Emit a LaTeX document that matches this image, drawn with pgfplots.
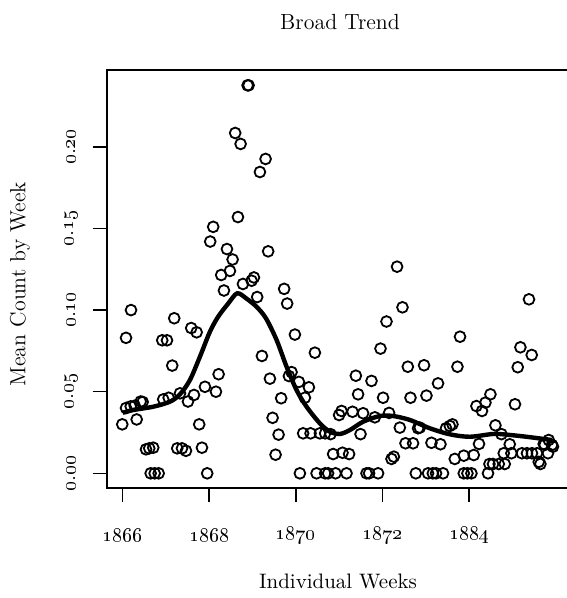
\documentclass[border=0pt]{standalone}
\usepackage{pgfplots}
\usepackage{pgfplotstable}
\pgfplotsset{compat=1.18}

\pgfplotstableread{
w v
-0.5 0.030
4 0.083
4 0.040
9.6 0.041
10 0.100
14.4 0.0414
16.8 0.033
21.6 0.044
24 0.0437
28 0.0147
31.9 0.0153
36.7 0.0157
33.6 0
38.4 0
43.2 0
47.5 0.0815
53.2 0.0815
48.7 0.0453
55.2 0.0463
59.5 0.066
61.9 0.095
65.5 0.0153
68.8 0.049
71.2 0.0153
76 0.0138
78.4 0.044
85.6 0.048
82.3 0.089
88.8 0.0864
91.9 0.030
95.2 0.0157
98.8 0.053
101.5 0
105.1 0.142
108.7 0.151
112 0.050
115.2 0.0607
118.3 0.1215
121.6 0.112
125.2 0.1374
128.8 0.124
132 0.131
135.1 0.2085
141.6 0.2018
138.4 0.157
144.4 0.116
150 0.2377
151.2 0.2377
154.8 0.118
157.6 0.120
161.5 0.108
164.8 0.1846
171.6 0.1926
174.7 0.136
167.2 0.0719
176.8 0.058
180 0.034
187.2 0.0237
183.6 0.0114
190.3 0.046
193.9 0.113
197.5 0.104
199.6 0.0596
202.8 0.062
206.8 0.085
211.6 0.056
212.8 0
216.7 0.0245
218.8 0.0463
223.6 0.0527
225.6 0.0245
230.8 0.0739
232.8 0
236.8 0.0245
243.1 0.0245
243.1 0
246.7 0
249.6 0.024
252.7 0.0118
255.6 0
259.9 0.0357
262.8 0.0382
264 0.0126
268.8 0
271.9 0.0118
276 0.0377
280 0.0598
282.7 0.0484
285.6 0.024
288.7 0.0368
292.8 0
295.9 0
298.8 0.0566
302.8 0.0343
306.7 0
309.6 0.0764
312.7 0.0463
316.8 0.093
319.9 0.037
322.8 0.0088
325.6 0.0102
329.5 0.1266
332.8 0.028
336 0.1017
339.6 0.0184
342.4 0.0653
345.6 0.0463
348.7 0.0184
352 0
354.7 0.0276
356.8 0.028
361.9 0.0662
364.8 0.0476
366.7 0
370.8 0.0187
372.4 0
376.3 0
378.7 0.0551
381.6 0.0178
384.7 0
388.3 0.0276
392.8 0.029
396 0.030
398.8 0.0088
402 0.0653
405.1 0.0837
409.6 0.0108
409.6 0
414 0
418.8 0
421.6 0.0112
424.8 0.0412
427.9 0.018
431.5 0.0382
435.6 0.0433
438.7 0
441.6 0.0484
440.4 0.0057
444.7 0.0057
447.6 0.0294
451.6 0.0057
454.8 0.024
458.8 0.0057
457.6 0.0123
464.8 0.0178
466.8 0.0123
471.1 0.0423
474.4 0.065
477.6 0.0772
479.5 0.0123
485.5 0.0123
487.9 0.1066
491.2 0.0725
491.5 0.0123
497.5 0.0123
499.6 0.007
501.6 0.0057
505.6 0.018
506.8 0.0174
510.7 0.0123
511.6 0.0204
515.5 0.0174
516.7 0.0163
}\points

\pgfplotstableread{
w v
0 0.0371
12.7 0.0388
36.7 0.0408
56.8 0.0439
68.8 0.0484
80.8 0.0572
92.8 0.0715
104.8 0.0868
114.7 0.096
126.7 0.104
137.5 0.1103
148.8 0.107
160.8 0.102
172 0.095
184.8 0.0817
196.8 0.0653
208.8 0.051
220.8 0.0408
236.8 0.0306
248.8 0.0255
260.8 0.0241
272.8 0.0265
288.7 0.0316
308.8 0.0351
324.7 0.0351
344.8 0.0327
368.8 0.0276
392.8 0.0239
416.8 0.0224
444.7 0.0241
460.8 0.0237
484.8 0.0224
515.5 0.0204
}\trend

\begin{document}
\begin{tikzpicture}
\useasboundingbox (0,0) rectangle (283.5bp,299bp);
\begin{axis}[
  at={(53.35bp,55bp)}, anchor=south west,
  scale only axis, width=231bp, height=209bp,
  xmin=-19.2, xmax=535.6, ymin=-0.009, ymax=0.2471,
  axis line style={line width=1bp},
  tick pos=left,
  tick align=outside,
  major tick length=7bp,
  tick style={line width=0.8bp, black},
  xtick={0,104,208,312,416},
  xticklabels={\oldstylenums{1866},\oldstylenums{1868},\oldstylenums{1870},\oldstylenums{1872},\oldstylenums{1884}},
  ytick={0,0.05,0.1,0.15,0.2},
  yticklabels={\oldstylenums{0.00},\oldstylenums{0.05},\oldstylenums{0.10},\oldstylenums{0.15},\oldstylenums{0.20}},
  xticklabel style={anchor=center, yshift=-16.5bp, font=\fontsize{10}{10}\selectfont},
  yticklabel style={xshift=-10.85bp, rotate=90, anchor=center, font=\fontsize{10}{10}\selectfont},
  clip=false,
]
\addplot[only marks, mark=o, mark size=2.7bp, mark options={line width=0.9bp, black}] table[x=w, y=v] {\points};
\addplot[black, line width=2.2bp, smooth, tension=0.5] table[x=w, y=v] {\trend};
\end{axis}
\node[font=\fontsize{11}{13}\selectfont] at (170bp,288bp) {Broad Trend};
\node[font=\fontsize{10.5}{12}\selectfont] at (169bp,8.5bp) {Individual Weeks};
\node[font=\fontsize{11}{13}\selectfont, rotate=90] at (10bp,157bp) {Mean Count by Week};
\end{tikzpicture}
\end{document}
